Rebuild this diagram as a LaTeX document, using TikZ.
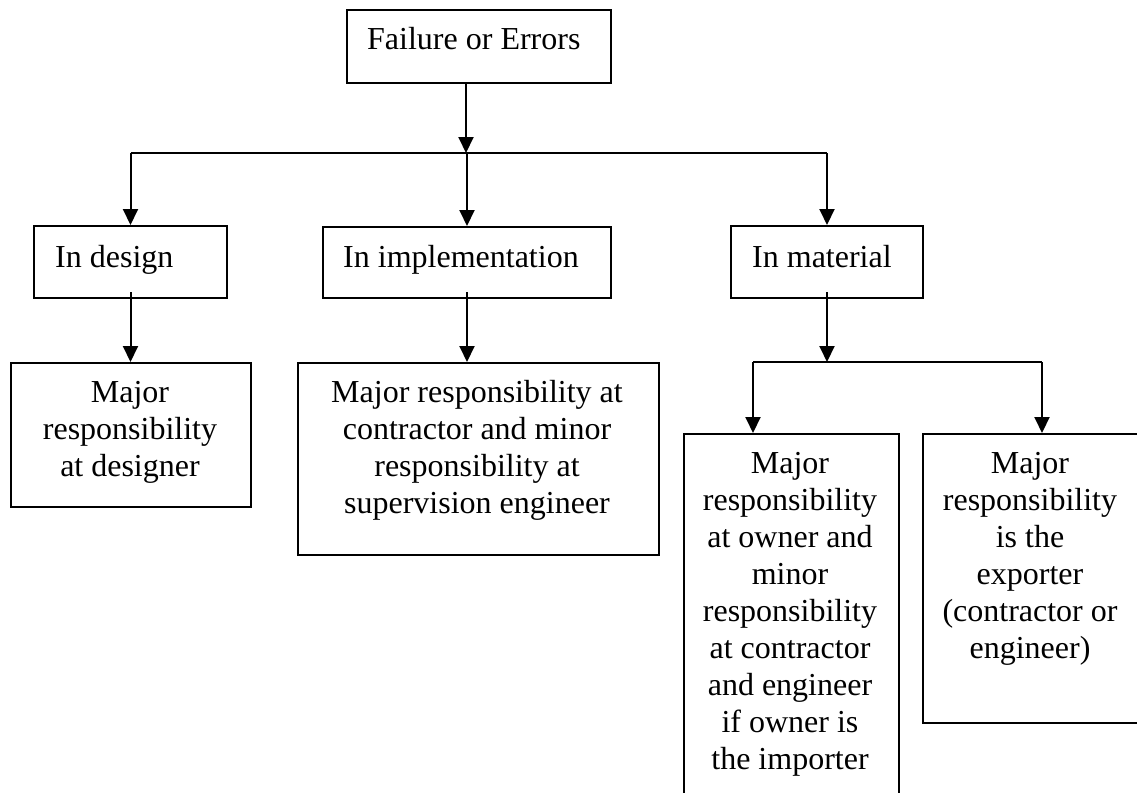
\documentclass[tikz,border=0pt]{standalone}
\usepackage{fontspec}
\setmainfont{Liberation Serif}
\usetikzlibrary{arrows.meta,calc}
\begin{document}
\begin{tikzpicture}[x=1pt,y=-1pt,
  box/.style={draw, line width=2pt, inner sep=0pt, anchor=north west},
  txt/.style={font=\fontsize{32}{37}\selectfont, inner sep=0pt, align=center},
  arr/.style={-{Triangle[width=15pt,length=16pt]}, line width=2pt},
  ln/.style={line width=2pt}]
\clip (0,0) rectangle (1137,792);
\fill[white] (0,0) rectangle (1137,792);
% boxes
\node[box, minimum width=264pt, minimum height=73pt] (top) at (346,9) {};
\node[box, minimum width=193pt, minimum height=72pt] (design) at (33,225) {};
\node[box, minimum width=288pt, minimum height=71pt] (impl) at (322,226) {};
\node[box, minimum width=192pt, minimum height=72pt] (mat) at (730,225) {};
\node[box, minimum width=240pt, minimum height=144pt] (d2) at (10,362) {};
\node[box, minimum width=361pt, minimum height=192pt] (i2) at (297,362) {};
\node[box, minimum width=215pt, minimum height=380pt] (o2) at (683,433) {};
\node[box, minimum width=216pt, minimum height=289pt] (e2) at (922,433) {};
% texts (base anchor = baseline of the last line)
\node[txt, anchor=base west] (toptxt) at (367,50) {Failure or Errors};
\node[txt, anchor=base west] (designtxt) at (55,267) {In design};
\node[txt, anchor=base west] (impltxt) at (343,267) {In implementation};
\node[txt, anchor=base west] (mattxt) at (752,267) {In material};
\node[txt, anchor=base] (d2txt) at (130,476) {Major\\responsibility\\at designer};
\node[txt, anchor=base] (i2txt) at (477,513) {Major responsibility at\\contractor and minor\\responsibility at\\supervision engineer};
\node[txt, anchor=base] (o2txt) at (790,769) {Major\\responsibility\\at owner and\\minor\\responsibility\\at contractor\\and engineer\\if owner is\\the importer};
\node[txt, anchor=base] (e2txt) at (1030,658) {Major\\responsibility\\is the\\exporter\\(contractor or\\engineer)};
% junctions
\coordinate (j1) at (466,153);
\coordinate (j2) at (826,362);
\coordinate (oa) at (753,433);
\coordinate (ea) at (1042,433);
% connectors
\draw[arr] (top.south -| j1) -- (j1);
\draw[ln] (design.north |- j1) -- (mat.north |- j1);
\draw[arr] (design.north |- j1) -- (design.north);
\draw[arr] (impl.north |- j1) -- (impl.north);
\draw[arr] (mat.north |- j1) -- (mat.north);
\draw[arr, shorten <=-7pt] (design.south) -- (design.south |- d2.north);
\draw[arr, shorten <=-7pt] (impl.south) -- (impl.south |- i2.north);
\draw[arr, shorten <=-7pt] (mat.south) -- (mat.south |- j2);
\draw[ln] (oa |- j2) -- (ea |- j2);
\draw[arr] (oa |- j2) -- (oa);
\draw[arr] (ea |- j2) -- (ea);
\end{tikzpicture}
\end{document}
